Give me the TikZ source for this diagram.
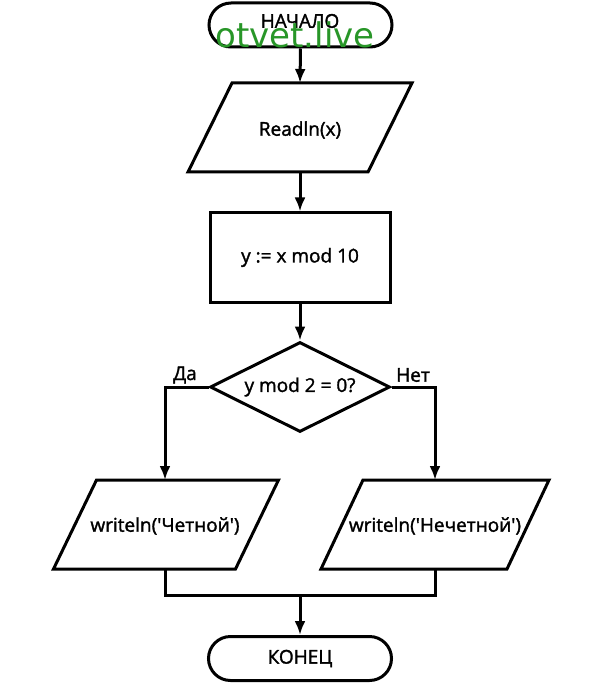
\documentclass[tikz,border=0pt]{standalone}
\usepackage{fontspec}
\setmainfont{Open Sans}[Ligatures=TeXOff]
\newfontfamily\medfont{Open Sans}[FakeBold=1.6, Ligatures=TeXOff]
\newfontfamily\wmfont{DejaVu Sans}
\usetikzlibrary{arrows.meta,shapes.geometric}
\definecolor{wmgreen}{RGB}{40,150,40}
\begin{document}
\begin{tikzpicture}[x=1pt,y=-1pt,
  line width=3pt, line join=miter,
  box/.style={draw, line width=3pt, fill=white, inner sep=0pt, font=\medfont\fontsize{19}{22}\selectfont},
  terminal/.style={box, rounded corners=22pt, minimum width=183pt, minimum height=44pt},
  proc/.style={box, minimum width=180pt, minimum height=89pt},
  decision/.style={box, diamond, aspect=2, minimum width=180pt, minimum height=90pt},
  lbl/.style={inner sep=0pt, font=\medfont\fontsize{19}{22}\selectfont},
  arr/.style={-{Latex[length=14pt,width=11pt]}, line width=3pt}]
\useasboundingbox (0,0) rectangle (600,684);

% start / end
\node[terminal] (start) at (300.5,25) {};
\node[lbl] (starttext) at (300,21) {НАЧАЛО};
\node[terminal] (end) at (300,658.5) {КОНЕЦ};

% input parallelogram
\coordinate (readT) at (300,83);
\coordinate (readB) at (300,172);
\draw[fill=white] (232,83) -- (412,83) -- (368,172) -- (188,172) -- cycle;
\node[lbl] (read) at (300,130) {Readln(x)};

% assignment
\node[proc] (assign) at (300,257.5) {y := x mod 10};

% decision
\node[decision] (cond) at (300,387) {y mod 2 = 0?};
\node[lbl] (yes) at (185,375) {Да};
\node[lbl] (no) at (413,375) {Нет};

% outputs
\coordinate (o1T) at (165,480);
\coordinate (o1B) at (165,569);
\draw[fill=white] (96.5,480) -- (278.5,480) -- (235.5,569) -- (53.5,569) -- cycle;
\node[lbl] (out1) at (165,526) {writeln('Четной')};

\coordinate (o2T) at (435,480);
\coordinate (o2B) at (435,569);
\draw[fill=white] (363,480) -- (549,480) -- (507,569) -- (321,569) -- cycle;
\node[lbl] (out2) at (435,526) {writeln('Нечетной')};

\coordinate (merge) at (300,595);

% connectors
\draw[arr] (start.south) -- (readT);
\draw[arr] (readB) -- (assign.north);
\draw[arr] (assign.south) -- (cond.north);
\draw[arr] (cond.west) -| (o1T);
\draw[arr] (cond.east) -| (o2T);
\draw (o1B) -- (o1B |- merge) -- (o2B |- merge) -- (o2B);
\draw[arr] (merge) -- (end.north);

% watermark
\node[inner sep=0pt, text=wmgreen, font=\wmfont\fontsize{34}{38}\selectfont] (wm) at (295,35) {otvet.live};
\end{tikzpicture}
\end{document}
